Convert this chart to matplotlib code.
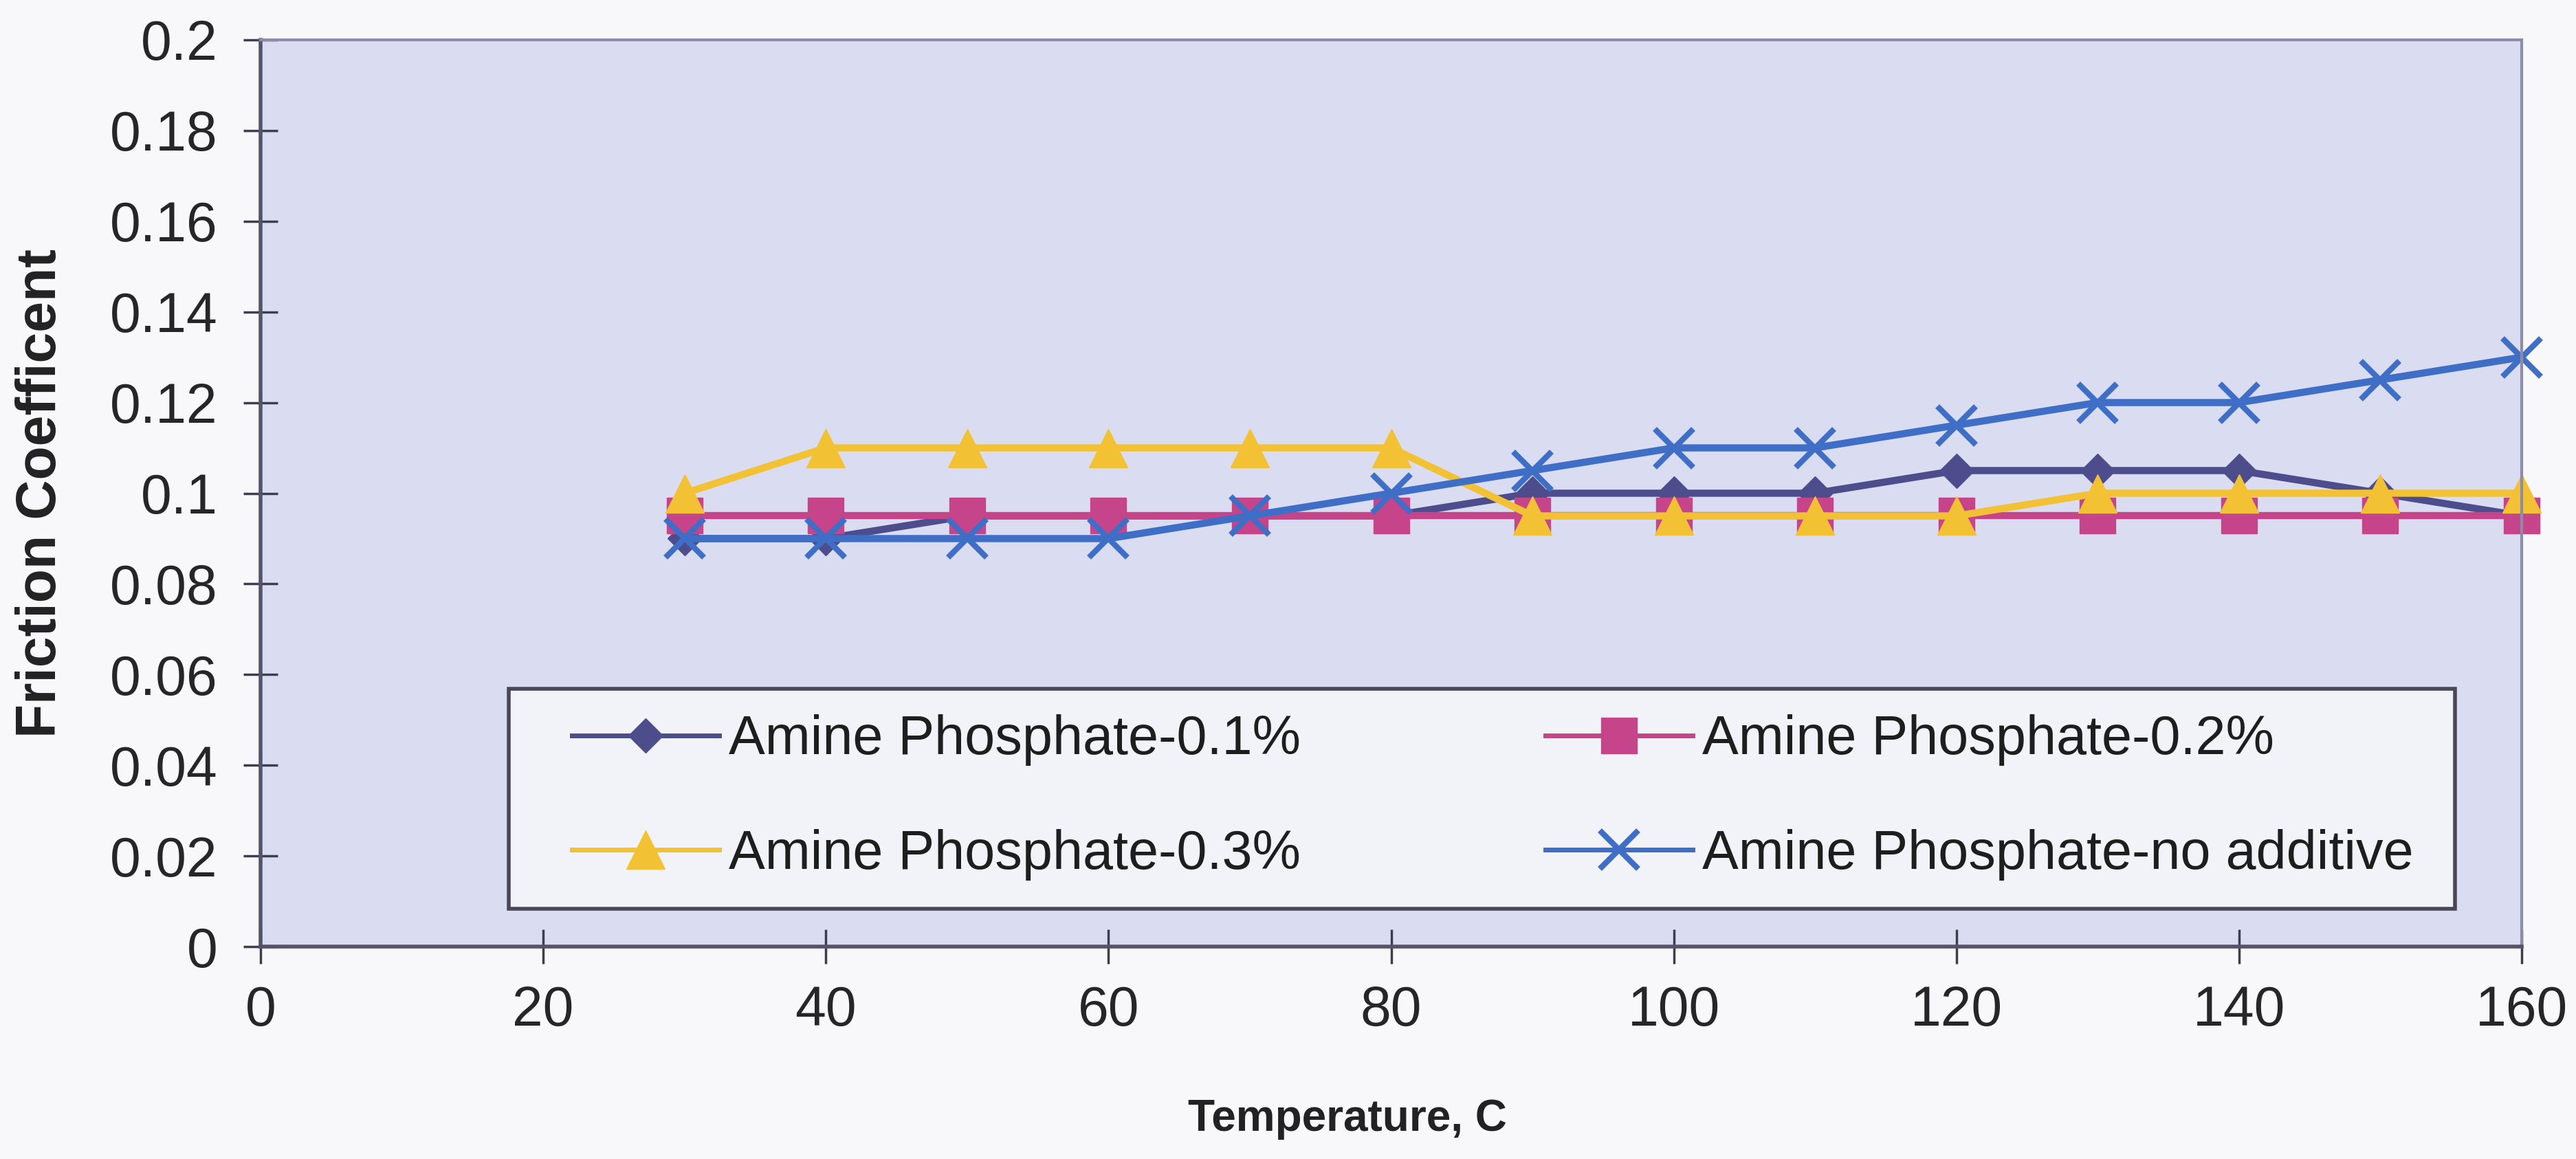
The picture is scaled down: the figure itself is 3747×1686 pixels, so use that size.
import matplotlib
matplotlib.use("Agg")
import matplotlib.pyplot as plt
from matplotlib.patches import Rectangle

plt.rcParams['font.family'] = ['Liberation Sans', 'DejaVu Sans']

# Temperatures (C) at which friction was measured
temperature = [30, 40, 50, 60, 70, 80, 90, 100, 110, 120, 130, 140, 150, 160]

# Friction coefficient per additive level
ap_01 = [0.09, 0.09, 0.095, 0.095, 0.095, 0.095, 0.1, 0.1, 0.1, 0.105, 0.105, 0.105, 0.1, 0.095]
ap_02 = [0.095, 0.095, 0.095, 0.095, 0.095, 0.095, 0.095, 0.095, 0.095, 0.095, 0.095, 0.095, 0.095, 0.095]
ap_03 = [0.1, 0.11, 0.11, 0.11, 0.11, 0.11, 0.095, 0.095, 0.095, 0.095, 0.1, 0.1, 0.1, 0.1]
ap_none = [0.09, 0.09, 0.09, 0.09, 0.095, 0.1, 0.105, 0.11, 0.11, 0.115, 0.12, 0.12, 0.125, 0.13]

series_labels = ["Amine Phosphate-0.1%", "Amine Phosphate-0.2%",
                 "Amine Phosphate-0.3%", "Amine Phosphate-no additive"]

x_ticks = [0, 20, 40, 60, 80, 100, 120, 140, 160]
y_ticks = [0, 0.02, 0.04, 0.06, 0.08, 0.1, 0.12, 0.14, 0.16, 0.18, 0.2]
y_ticklabels = ["0", "0.02", "0.04", "0.06", "0.08", "0.1", "0.12", "0.14", "0.16", "0.18", "0.2"]

W, H, DPI = 3748, 1686, 100
AX_L, AX_R, AX_T, AX_B = 379, 3668, 58, 1377
AW, AH = AX_R - AX_L, AX_B - AX_T


def fx(px):
    return (px - AX_L) / AW


def fy(py):
    return (AX_B - py) / AH


fig = plt.figure(figsize=(W / DPI, H / DPI), dpi=DPI, facecolor="#F8F8FB")
ax = fig.add_axes([AX_L / W, 1 - AX_B / H, AW / W, AH / H])
ax.set_facecolor("#DADDF2")

styles = [
    dict(color="#4D4C8C", marker="D", ms=25, mec="#4D4C8C"),
    dict(color="#C6448A", marker="s", ms=37, mec="#C6448A"),
    dict(color="#F2C234", marker="^", ms=41, mec="#F2C234"),
    dict(color="#3F6EC6", marker="x", ms=40, mew=6, mec="#3F6EC6"),
]
lines = []
for ys, lab, st in zip([ap_01, ap_02, ap_03, ap_none], series_labels, styles):
    ln, = ax.plot(temperature, ys, lw=7.5, label=lab, clip_on=False, **st)
    lines.append(ln)

ax.set_xlim(0, 160)
ax.set_ylim(0, 0.2)
ax.set_xticks(x_ticks)
ax.set_xticklabels([str(t) for t in x_ticks])
ax.set_yticks(y_ticks)
ax.set_yticklabels(y_ticklabels)

ax.tick_params(axis="both", direction="inout", length=36, width=2.5,
               color="#3E3C4E", labelsize=58, labelcolor="#262626")
ax.tick_params(axis="x", pad=22)
ax.tick_params(axis="y", pad=27)

for side in ["left", "bottom"]:
    ax.spines[side].set_color("#55536A")
    ax.spines[side].set_linewidth(4)
for side in ["top", "right"]:
    ax.spines[side].set_color("#8E8AAA")
    ax.spines[side].set_linewidth(3)

ax.set_ylabel("Friction Coefficent", fontsize=58, fontweight="bold", color="#222222")
ax.yaxis.label.set_va("center")
ax.yaxis.set_label_coords(fx(60), 0.5)
ax.set_xlabel("Temperature, C", fontsize=46, fontweight="bold", color="#222222")
ax.xaxis.label.set_va("center")
ax.xaxis.set_label_coords(fx(1960), fy(1628))

# Legend box
box = Rectangle((fx(740), fy(1322)), fx(3571) - fx(740), fy(1002) - fy(1322),
                transform=ax.transAxes, facecolor="#F2F3F9", edgecolor="#4A4858",
                linewidth=4, zorder=4)
ax.add_patch(box)

# Legend entries, filled row by row (matplotlib fills column-wise)
order = [0, 2, 1, 3]
leg = ax.legend([lines[i] for i in order], [series_labels[i] for i in order],
                loc="center left", bbox_to_anchor=(fx(832), fy(1160)),
                ncol=2, fontsize=57, frameon=False, borderpad=0,
                labelspacing=1.15, handlelength=2.7, handletextpad=0.18,
                borderaxespad=0, columnspacing=4.5)
leg.set_zorder(5)
for h in leg.legend_handles:
    h.set_linewidth(5)
for t in leg.get_texts():
    t.set_color("#1E1E1E")

fig.savefig("out.png", dpi=DPI, facecolor=fig.get_facecolor())
